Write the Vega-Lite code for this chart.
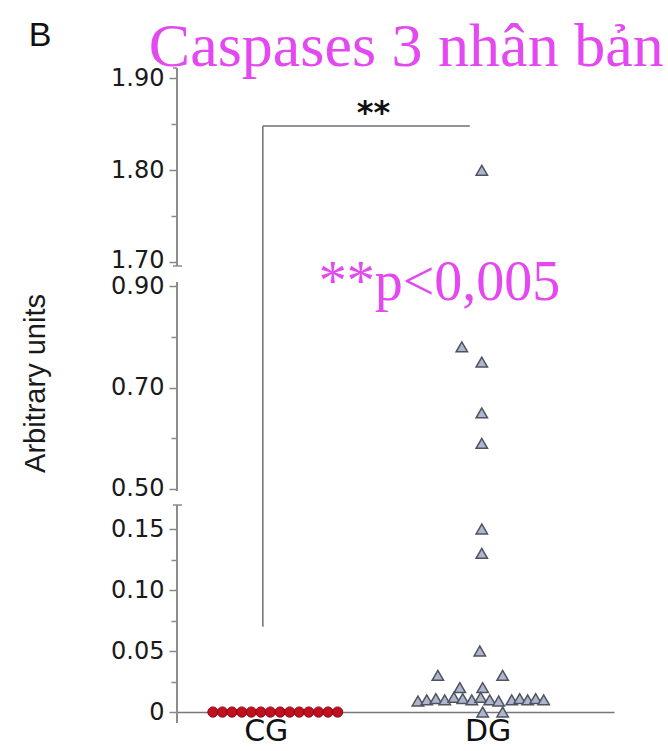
{
  "$schema": "https://vega.github.io/schema/vega-lite/v6.json",
  "width": 437,
  "height": 751,
  "autosize": {"type": "none"},
  "padding": {"left": 177, "right": 54, "top": 0, "bottom": 0},
  "background": "white",
  "config": {"view": {"stroke": null}},
  "datasets": {
    "points": [
      {"group": "CG", "u": 0.762, "v": 0},
      {"group": "CG", "u": 0.805, "v": 0},
      {"group": "CG", "u": 0.848, "v": 0},
      {"group": "CG", "u": 0.892, "v": 0},
      {"group": "CG", "u": 0.935, "v": 0},
      {"group": "CG", "u": 0.978, "v": 0},
      {"group": "CG", "u": 1.021, "v": 0},
      {"group": "CG", "u": 1.065, "v": 0},
      {"group": "CG", "u": 1.108, "v": 0},
      {"group": "CG", "u": 1.151, "v": 0},
      {"group": "CG", "u": 1.194, "v": 0},
      {"group": "CG", "u": 1.238, "v": 0},
      {"group": "CG", "u": 1.281, "v": 0},
      {"group": "CG", "u": 1.324, "v": 0},
      {"group": "DG", "u": 1.974, "v": 1.80},
      {"group": "DG", "u": 1.884, "v": 0.78},
      {"group": "DG", "u": 1.974, "v": 0.75},
      {"group": "DG", "u": 1.974, "v": 0.65},
      {"group": "DG", "u": 1.974, "v": 0.59},
      {"group": "DG", "u": 1.974, "v": 0.15},
      {"group": "DG", "u": 1.974, "v": 0.13},
      {"group": "DG", "u": 1.965, "v": 0.05},
      {"group": "DG", "u": 1.776, "v": 0.03},
      {"group": "DG", "u": 2.068, "v": 0.03},
      {"group": "DG", "u": 1.875, "v": 0.02},
      {"group": "DG", "u": 1.978, "v": 0.02},
      {"group": "DG", "u": 1.686, "v": 0.009},
      {"group": "DG", "u": 1.726, "v": 0.010},
      {"group": "DG", "u": 1.767, "v": 0.011},
      {"group": "DG", "u": 1.807, "v": 0.010},
      {"group": "DG", "u": 1.848, "v": 0.012},
      {"group": "DG", "u": 1.888, "v": 0.011},
      {"group": "DG", "u": 1.929, "v": 0.010},
      {"group": "DG", "u": 1.969, "v": 0.012},
      {"group": "DG", "u": 2.010, "v": 0.010},
      {"group": "DG", "u": 2.050, "v": 0.009},
      {"group": "DG", "u": 2.109, "v": 0.010},
      {"group": "DG", "u": 2.145, "v": 0.011},
      {"group": "DG", "u": 2.181, "v": 0.010},
      {"group": "DG", "u": 2.217, "v": 0.011},
      {"group": "DG", "u": 2.253, "v": 0.010},
      {"group": "DG", "u": 1.978, "v": 0},
      {"group": "DG", "u": 2.068, "v": 0}
    ],
    "axisSegments": [
      {"u": 0.6, "v": -0.009, "v2": 0.1697},
      {"u": 0.6, "v": 0.496, "v2": 0.908},
      {"u": 0.6, "v": 1.696, "v2": 1.911}
    ],
    "caps": [
      {"u": 0.582, "u2": 0.623, "v": 0.1697},
      {"u": 0.582, "u2": 0.623, "v": 1.696},
      {"u": 0.582, "u2": 0.6, "v": 1.911}
    ],
    "bracket": [
      {"u": 0.987, "u2": 1.92, "v": 1.848, "v2": 1.848},
      {"u": 0.987, "u2": 0.987, "v": 0.07, "v2": 1.848}
    ],
    "stars": [{"label": "**", "u": 1.486, "v": 1.862}],
    "pvalue": [{"label": "**p<0,005", "u": 1.239, "v": 0.872}],
    "heading": [{"label": "Caspases 3 nhân bản", "u": 0.473, "v": 1.913}],
    "panel": [{"label": "B", "u": -0.068, "v": 1.935}]
  },
  "encoding": {
    "x": {
      "field": "u",
      "type": "quantitative",
      "scale": {"domain": [0.6, 2.57], "nice": false, "zero": false},
      "axis": {
        "values": [1, 2],
        "labelExpr": "datum.value == 1 ? 'CG' : 'DG'",
        "title": null,
        "ticks": false,
        "grid": false,
        "offset": -39,
        "domainColor": "#777777",
        "domainWidth": 1.5,
        "labelFont": "DejaVu Sans",
        "labelFontSize": 30,
        "labelColor": "#111111",
        "labelPadding": 4,
        "labelFlush": false
      }
    },
    "y": {
      "field": "v",
      "type": "quantitative",
      "scale": {
        "domain": [-0.009, 0.1697, 0.496, 0.908, 1.696, 1.911],
        "range": [723, 505, 491, 282, 266, 68],
        "nice": false,
        "zero": false
      },
      "axis": {
        "values": [0, 0.025, 0.05, 0.075, 0.1, 0.125, 0.15, 0.5, 0.6, 0.7, 0.8, 0.9, 1.7, 1.75, 1.8, 1.85, 1.9],
        "labelExpr": "indexof([0.025,0.075,0.125,0.6,0.8,1.75,1.85], datum.value) >= 0 ? '' : (datum.value == 0 ? '0' : format(datum.value, '.2f'))",
        "domain": false,
        "grid": false,
        "tickColor": "#888888",
        "tickWidth": 1.5,
        "tickSize": {"condition": {"test": "indexof([0.025,0.075,0.125,0.6,0.8,1.75,1.85], datum.value) >= 0", "value": 6}, "value": 8},
        "labelOffset": {"condition": {"test": "datum.value == 1.7", "value": -2}, "value": 0},
        "labelFont": "DejaVu Sans",
        "labelFontSize": 24,
        "labelColor": "#1a1a1a",
        "labelPadding": 5,
        "labelOverlap": false,
        "labelBound": false,
        "labelFlush": false,
        "title": "Arbitrary units",
        "titleFont": "Liberation Sans",
        "titleFontSize": 29,
        "titleFontWeight": "normal",
        "titleColor": "#1a1a1a",
        "titleX": -127,
        "titleY": 383
      }
    }
  },
  "layer": [
    {
      "data": {"name": "axisSegments"},
      "mark": {"type": "rule", "color": "#8c8c8c", "strokeWidth": 2},
      "encoding": {"y2": {"field": "v2"}}
    },
    {
      "data": {"name": "caps"},
      "mark": {"type": "rule", "color": "#8c8c8c", "strokeWidth": 1.5},
      "encoding": {"x2": {"field": "u2"}}
    },
    {
      "data": {"name": "bracket"},
      "mark": {"type": "rule", "color": "#707070", "strokeWidth": 1.5},
      "encoding": {"x2": {"field": "u2"}, "y2": {"field": "v2"}}
    },
    {
      "data": {"name": "points"},
      "transform": [{"filter": "datum.group == 'CG'"}],
      "mark": {"type": "point", "shape": "circle", "filled": true, "size": 105, "fill": "#c01020", "stroke": "#8a0a14", "strokeWidth": 1, "opacity": 1}
    },
    {
      "data": {"name": "points"},
      "transform": [{"filter": "datum.group == 'DG'"}],
      "mark": {"type": "point", "shape": "triangle-up", "filled": true, "size": 130, "fill": "#aeb6cf", "stroke": "#50535e", "strokeWidth": 1.5, "opacity": 1}
    },
    {
      "data": {"name": "stars"},
      "mark": {"type": "text", "font": "DejaVu Sans", "fontSize": 32, "fontWeight": "bold", "align": "center", "baseline": "middle", "color": "#111111"},
      "encoding": {"text": {"field": "label"}}
    },
    {
      "data": {"name": "pvalue"},
      "mark": {"type": "text", "font": "Liberation Serif", "fontSize": 56, "align": "left", "baseline": "alphabetic", "color": "#e448f0"},
      "encoding": {"text": {"field": "label"}}
    },
    {
      "data": {"name": "heading"},
      "mark": {"type": "text", "font": "Liberation Serif", "fontSize": 62, "align": "left", "baseline": "alphabetic", "color": "#e448f0"},
      "encoding": {"text": {"field": "label"}}
    },
    {
      "data": {"name": "panel"},
      "mark": {"type": "text", "font": "Liberation Sans", "fontSize": 34, "align": "left", "baseline": "alphabetic", "color": "#111111"},
      "encoding": {"text": {"field": "label"}}
    }
  ]
}
